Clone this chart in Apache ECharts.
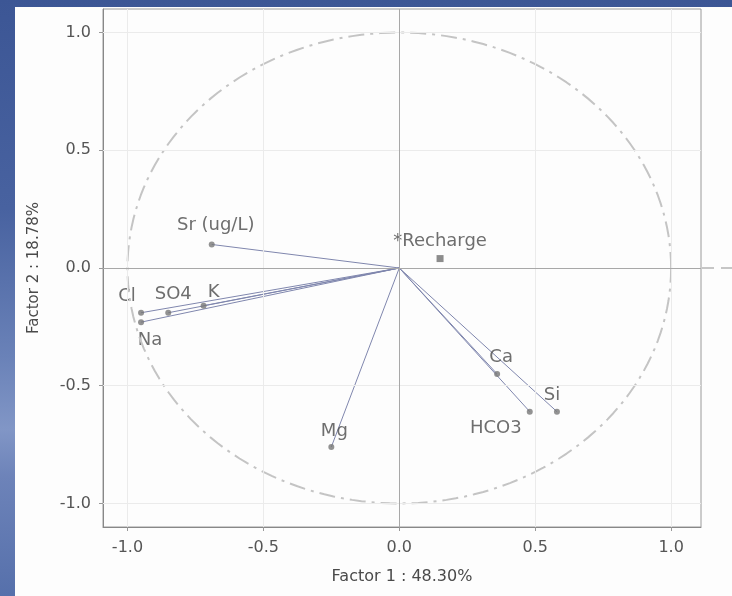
<!DOCTYPE html>
<html>
<head>
<meta charset="utf-8">
<script src="https://cdn.jsdelivr.net/npm/echarts@6/dist/echarts.min.js"></script>
<style>
html,body{margin:0;padding:0;width:732px;height:596px;overflow:hidden;
  background:linear-gradient(to bottom,#3c5695 0%,#4862a0 35%,#6a82b8 60%,#8196c6 72%,#6d83b9 80%,#5670ab 100%);}
#panel{position:absolute;left:15px;top:7px;width:717px;height:589px;background:#fdfdfd;}
#chart{position:absolute;left:0;top:0;width:732px;height:596px;}
</style>
</head>
<body>
<div id="panel"></div>
<div id="chart"></div>
<script>
// Active variables (loadings on Factor 1 / Factor 2)
const varNames = ['Sr (ug/L)', 'Cl', 'SO4', 'K', 'Na', 'Ca', 'HCO3', 'Si', 'Mg'];
const factor1  = [-0.69, -0.95, -0.85, -0.72, -0.95, 0.36, 0.48, 0.58, -0.25];
const factor2  = [ 0.10, -0.19, -0.19, -0.16, -0.23, -0.45, -0.61, -0.61, -0.76];
// Supplementary variable
const suppNames = ['*Recharge'];
const suppF1 = [0.15];
const suppF2 = [0.04];
// Axis tick labels
const tickValues = [-1.0, -0.5, 0.0, 0.5, 1.0];
const xAxisTitle = 'Factor 1 : 48.30%';
const yAxisTitle = 'Factor 2 : 18.78%';

// label placement (style, kept apart from data)
const labelPlace = {
  'Sr (ug/L)': {position: 'top', offset: [4, -2]},
  'Cl':   {position: 'top', offset: [-14, 1]},
  'SO4':  {position: 'top', offset: [5, -1]},
  'K':    {position: 'top', offset: [10, 4]},
  'Na':   {position: 'bottom', offset: [9, 1]},
  'Ca':   {position: 'top', offset: [4, 0]},
  'HCO3': {position: 'bottom', offset: [-34, 0]},
  'Si':   {position: 'top', offset: [-5, 1]},
  'Mg':   {position: 'top', offset: [3, 1]},
  '*Recharge': {position: 'top', offset: [0, 0]}
};

// unit correlation circle (reference geometry)
const circle = [];
for (let a = 0; a <= 360; a += 2) {
  const r = a * Math.PI / 180;
  circle.push([Math.cos(r), Math.sin(r)]);
}

const labelFont = {color: '#4a4a4a', fontFamily: 'DejaVu Sans', fontSize: 18};
const fmt = v => (Math.abs(v) < 1e-9 ? '0.0' : v.toFixed(1));

const chart = echarts.init(document.getElementById('chart'), null, {renderer: 'canvas'});
chart.setOption({
  animation: false,
  grid: {left: 103, right: 31, top: 9, bottom: 69, show: true, borderColor: '#9a9a9a', borderWidth: 1},
  xAxis: {
    type: 'value', min: -1.09, max: 1.11,
    name: xAxisTitle, nameLocation: 'middle', nameGap: 42,
    nameTextStyle: {color: '#4a4a4a', fontFamily: 'DejaVu Sans', fontSize: 16},
    axisLine: {show: true, onZero: false, lineStyle: {color: '#888'}},
    axisTick: {show: true, length: 4, customValues: tickValues, lineStyle: {color: '#999'}},
    axisLabel: {customValues: tickValues, formatter: fmt, margin: 13, color: '#555', fontFamily: 'DejaVu Sans', fontSize: 16},
    splitLine: {show: false}
  },
  yAxis: {
    type: 'value', min: -1.1, max: 1.1,
    name: yAxisTitle, nameLocation: 'middle', nameGap: 61, nameRotate: 90,
    nameTextStyle: {color: '#4a4a4a', fontFamily: 'DejaVu Sans', fontSize: 15},
    axisLine: {show: true, onZero: false, lineStyle: {color: '#888'}},
    axisTick: {show: true, length: 4, customValues: tickValues, lineStyle: {color: '#999'}},
    axisLabel: {customValues: tickValues, formatter: fmt, margin: 12, color: '#555', fontFamily: 'DejaVu Sans', fontSize: 16},
    splitLine: {show: false}
  },
  series: [
    {
      type: 'scatter', data: [], silent: true,
      markLine: {
        silent: true, symbol: 'none', label: {show: false},
        lineStyle: {color: '#ebebeb', type: 'solid', width: 1},
        data: tickValues.filter(v => v !== 0).map(v => ({xAxis: v}))
          .concat(tickValues.filter(v => v !== 0).map(v => ({yAxis: v})))
      }
    },
    {
      type: 'scatter', data: [], silent: true,
      markLine: {
        silent: true, symbol: 'none', label: {show: false},
        lineStyle: {color: '#a8a8a8', type: 'solid', width: 1},
        data: [{xAxis: 0}, {yAxis: 0}]
      }
    },
    {
      type: 'line', data: circle, showSymbol: false, silent: true, smooth: false,
      lineStyle: {color: '#c4c4c4', width: 2, type: [16, 6, 3, 6]}
    },
    {
      type: 'lines', coordinateSystem: 'cartesian2d', silent: true,
      lineStyle: {color: '#7f86ad', width: 1, opacity: 1, curveness: 0},
      data: varNames.map((n, i) => ({coords: [[0, 0], [factor1[i], factor2[i]]]}))
    },
    {
      type: 'scatter', symbol: 'circle', symbolSize: 6,
      itemStyle: {color: '#777'},
      data: varNames.map((n, i) => ({
        name: n, value: [factor1[i], factor2[i]],
        label: Object.assign({show: true, formatter: n}, labelFont, labelPlace[n])
      }))
    },
    {
      type: 'scatter', symbol: 'rect', symbolSize: 7,
      itemStyle: {color: '#6f6f6f'},
      data: suppNames.map((n, i) => ({
        name: n, value: [suppF1[i], suppF2[i]],
        label: Object.assign({show: true, formatter: n}, labelFont, labelPlace[n])
      }))
    }
  ]
});

// zero line continues past the right frame (dashed), positioned via the axis scale
const p0 = chart.convertToPixel({gridIndex: 0}, [1.11, 0]);
chart.setOption({
  graphic: [{
    type: 'line', silent: true,
    shape: {x1: p0[0] + 1, y1: p0[1], x2: 732, y2: p0[1]},
    style: {stroke: '#b4b4b4', lineWidth: 1.5, lineDash: [12, 7]}
  }]
});
</script>
</body>
</html>
